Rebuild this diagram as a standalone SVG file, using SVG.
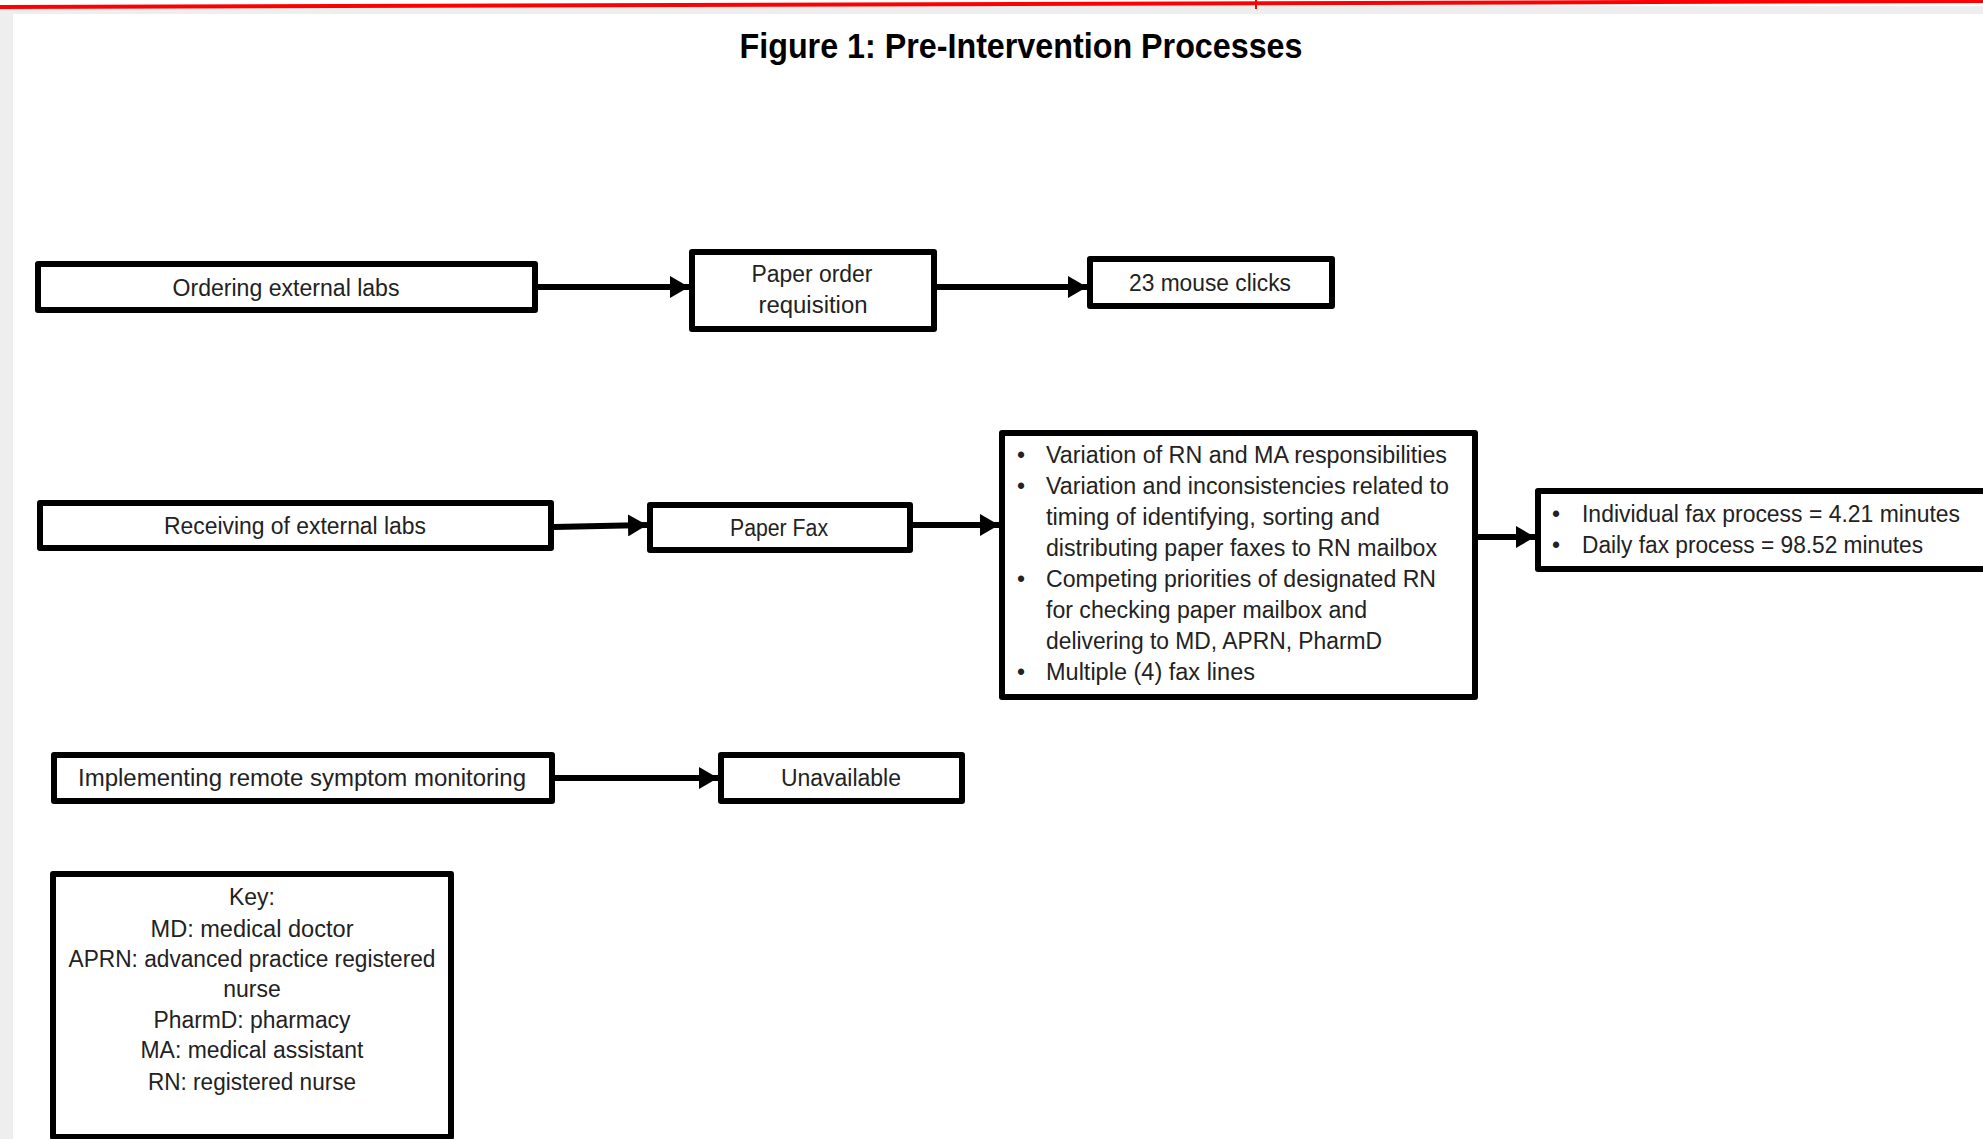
<svg xmlns="http://www.w3.org/2000/svg" width="1983" height="1139" viewBox="0 0 1983 1139">
<defs>
<style>
.box{fill:#fff;stroke:#000;stroke-width:6;stroke-linejoin:round}
.t{font-family:"Liberation Sans",Arial,sans-serif;font-size:23px;fill:#222}
.c{text-anchor:middle}
.title{font-family:"Liberation Sans",Arial,sans-serif;font-size:35px;font-weight:bold;fill:#000;text-anchor:middle}
.ln{stroke:#000;stroke-width:6;fill:none}
</style>
<marker id="ah" viewBox="0 0 19 22" refX="19" refY="11" markerWidth="19" markerHeight="22" markerUnits="userSpaceOnUse" orient="auto">
<path d="M0,0 L19,11 L0,22 Z" fill="#000"/>
</marker>
</defs>
<rect x="0" y="0" width="1983" height="1139" fill="#fff"/>
<rect x="0" y="6" width="1983" height="8" fill="#eeeeee"/>
<rect x="0" y="12" width="13" height="1127" fill="#eeeeee"/>
<path d="M0,7 L1983,1" stroke="#ff0000" stroke-width="4"/>
<line x1="1256" y1="0" x2="1256" y2="9" stroke="#ff0000" stroke-width="2"/>

<text class="title" x="1021" y="58" textLength="563" lengthAdjust="spacingAndGlyphs">Figure 1: Pre-Intervention Processes</text>

<g id="connectors">
<line class="ln" x1="538" y1="287" x2="689" y2="287" marker-end="url(#ah)"/>
<line class="ln" x1="937" y1="287" x2="1087" y2="287" marker-end="url(#ah)"/>
<line class="ln" x1="554" y1="527" x2="647" y2="525" marker-end="url(#ah)"/>
<line class="ln" x1="913" y1="525" x2="999" y2="525" marker-end="url(#ah)"/>
<line class="ln" x1="1478" y1="537" x2="1535" y2="537" marker-end="url(#ah)"/>
<line class="ln" x1="555" y1="778" x2="718" y2="778" marker-end="url(#ah)"/>
</g>

<g id="ordering">
<rect class="box" x="38" y="264" width="497" height="46"/>
<text class="t c" x="286" y="296" textLength="227" lengthAdjust="spacingAndGlyphs">Ordering external labs</text>
</g>
<g id="paper-order">
<rect class="box" x="692" y="252" width="242" height="77"/>
<text class="t c" x="812" y="282" textLength="121" lengthAdjust="spacingAndGlyphs">Paper order</text>
<text class="t c" x="813" y="313" textLength="109" lengthAdjust="spacingAndGlyphs">requisition</text>
</g>
<g id="mouse-clicks">
<rect class="box" x="1090" y="259" width="242" height="47"/>
<text class="t c" x="1210" y="291" textLength="162" lengthAdjust="spacingAndGlyphs">23 mouse clicks</text>
</g>

<g id="receiving">
<rect class="box" x="40" y="503" width="511" height="45"/>
<text class="t c" x="295" y="534" textLength="262" lengthAdjust="spacingAndGlyphs">Receiving of external labs</text>
</g>
<g id="paper-fax">
<rect class="box" x="650" y="505" width="260" height="45"/>
<text class="t c" x="779" y="536" textLength="98" lengthAdjust="spacingAndGlyphs">Paper Fax</text>
</g>
<g id="issues">
<rect class="box" x="1002" y="433" width="473" height="264"/>
<g class="t">
<text x="1017" y="463">•</text>
<text x="1046" y="463" textLength="401" lengthAdjust="spacingAndGlyphs">Variation of RN and MA responsibilities</text>
<text x="1017" y="494">•</text>
<text x="1046" y="494" textLength="403" lengthAdjust="spacingAndGlyphs">Variation and inconsistencies related to</text>
<text x="1046" y="525" textLength="334" lengthAdjust="spacingAndGlyphs">timing of identifying, sorting and</text>
<text x="1046" y="556" textLength="391" lengthAdjust="spacingAndGlyphs">distributing paper faxes to RN mailbox</text>
<text x="1017" y="587">•</text>
<text x="1046" y="587" textLength="390" lengthAdjust="spacingAndGlyphs">Competing priorities of designated RN</text>
<text x="1046" y="618" textLength="321" lengthAdjust="spacingAndGlyphs">for checking paper mailbox and</text>
<text x="1046" y="649" textLength="336" lengthAdjust="spacingAndGlyphs">delivering to MD, APRN, PharmD</text>
<text x="1017" y="680">•</text>
<text x="1046" y="680" textLength="209" lengthAdjust="spacingAndGlyphs">Multiple (4) fax lines</text>
</g>
</g>
<g id="fax-times">
<rect class="box" x="1538" y="491" width="500" height="78"/>
<g class="t">
<text x="1552" y="522">•</text>
<text x="1582" y="522" textLength="378" lengthAdjust="spacingAndGlyphs">Individual fax process = 4.21 minutes</text>
<text x="1552" y="553">•</text>
<text x="1582" y="553" textLength="341" lengthAdjust="spacingAndGlyphs">Daily fax process = 98.52 minutes</text>
</g>
</g>

<g id="remote">
<rect class="box" x="54" y="755" width="498" height="46"/>
<text class="t c" x="302" y="786" textLength="448" lengthAdjust="spacingAndGlyphs">Implementing remote symptom monitoring</text>
</g>
<g id="unavailable">
<rect class="box" x="721" y="755" width="241" height="46"/>
<text class="t c" x="841" y="786" textLength="120" lengthAdjust="spacingAndGlyphs">Unavailable</text>
</g>

<g id="key">
<rect class="box" x="53" y="874" width="398" height="263"/>
<g class="t c">
<text x="252" y="905">Key:</text>
<text x="252" y="937" textLength="203" lengthAdjust="spacingAndGlyphs">MD: medical doctor</text>
<text x="252" y="967" textLength="367" lengthAdjust="spacingAndGlyphs">APRN: advanced practice registered</text>
<text x="252" y="997">nurse</text>
<text x="252" y="1028" textLength="197" lengthAdjust="spacingAndGlyphs">PharmD: pharmacy</text>
<text x="252" y="1058" textLength="223" lengthAdjust="spacingAndGlyphs">MA: medical assistant</text>
<text x="252" y="1090" textLength="208" lengthAdjust="spacingAndGlyphs">RN: registered nurse</text>
</g>
</g>
</svg>
